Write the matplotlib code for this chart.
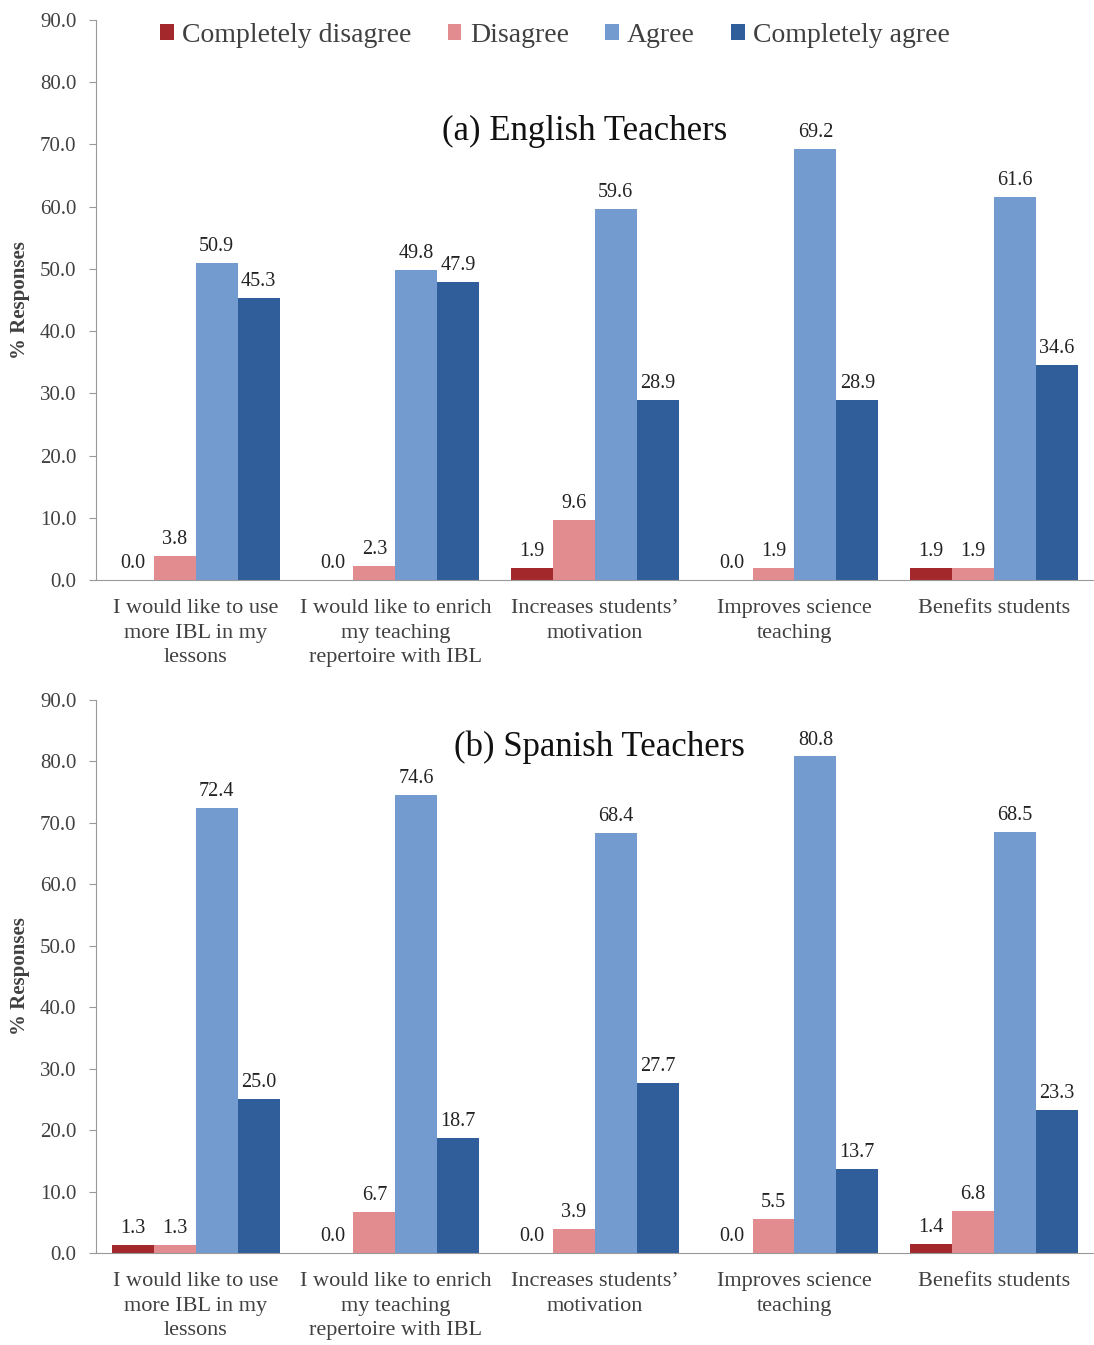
import numpy as np
import matplotlib
matplotlib.use("Agg")
import matplotlib.pyplot as plt

plt.rcParams['font.family'] = ['Liberation Serif', 'DejaVu Serif']

categories = ["I would like to use\nmore IBL in my\nlessons",
              "I would like to enrich\nmy teaching\nrepertoire with IBL",
              "Increases students\u2019\nmotivation",
              "Improves science\nteaching",
              "Benefits students"]
series_names = ["Completely disagree", "Disagree", "Agree", "Completely agree"]

english_cd = [0.0, 0.0, 1.9, 0.0, 1.9]
english_d = [3.8, 2.3, 9.6, 1.9, 1.9]
english_a = [50.9, 49.8, 59.6, 69.2, 61.6]
english_ca = [45.3, 47.9, 28.9, 28.9, 34.6]

spanish_cd = [1.3, 0.0, 0.0, 0.0, 1.4]
spanish_d = [1.3, 6.7, 3.9, 5.5, 6.8]
spanish_a = [72.4, 74.6, 68.4, 80.8, 68.5]
spanish_ca = [25.0, 18.7, 27.7, 13.7, 23.3]

colors = ['#A3282C', '#E38C90', '#739BD0', '#2F5E9A']
text_gray = '#404040'
axis_gray = '#999999'

fig = plt.figure(figsize=(10.94, 13.45), dpi=100)
ax_top = fig.add_axes([0.0878, 0.5688, 0.912, 0.4164])
ax_bot = fig.add_axes([0.0878, 0.0684, 0.912, 0.4112])


def draw_panel(ax, data, title, title_xy, legend=False):
    x = np.arange(len(categories))
    width = 0.21
    offsets = [-1.5, -0.5, 0.5, 1.5]
    for vals, off, col, name in zip(data, offsets, colors, series_names):
        bars = ax.bar(x + off * width, vals, width, color=col, label=name)
        for b, v in zip(bars, vals):
            ax.annotate(f"{v:.1f}", (b.get_x() + b.get_width() / 2, v),
                        xytext=(0, 5), textcoords='offset points',
                        ha='center', va='bottom', fontsize=14.5, color='#222222')
    ax.set_xlim(-0.5, len(categories) - 0.5)
    ax.set_ylim(0, 90)
    ax.set_yticks(np.arange(0, 91, 10))
    ax.set_yticklabels([f"{t:.1f}" for t in np.arange(0, 91, 10)])
    ax.set_xticks(x)
    ax.set_xticklabels(categories, fontsize=16, color=text_gray, linespacing=1.38)
    ax.tick_params(axis='y', labelsize=15, colors=text_gray, length=5,
                   direction='out', color=axis_gray, pad=9)
    ax.tick_params(axis='x', length=0, pad=14)
    for s in ['top', 'right']:
        ax.spines[s].set_visible(False)
    ax.spines['left'].set_color(axis_gray)
    ax.spines['bottom'].set_color(axis_gray)
    ax.set_ylabel("% Responses", fontsize=15, fontweight='bold', color=text_gray)
    ax.yaxis.set_label_coords(-0.066, 0.5)
    ax.text(title_xy[0], title_xy[1], title, transform=ax.transAxes,
            ha='center', va='center', fontsize=25, color='#111111')
    if legend:
        ax.legend(loc='upper center', bbox_to_anchor=(0.46, 1.04), ncol=4, frameon=False,
                  fontsize=20, handlelength=0.5, handleheight=0.5, handletextpad=0.3,
                  columnspacing=1.3, labelcolor=text_gray)


draw_panel(ax_top, [english_cd, english_d, english_a, english_ca],
           "(a) English Teachers", (0.49, 0.80), legend=True)
draw_panel(ax_bot, [spanish_cd, spanish_d, spanish_a, spanish_ca],
           "(b) Spanish Teachers", (0.505, 0.915))

fig.savefig("out.png", dpi=100)
